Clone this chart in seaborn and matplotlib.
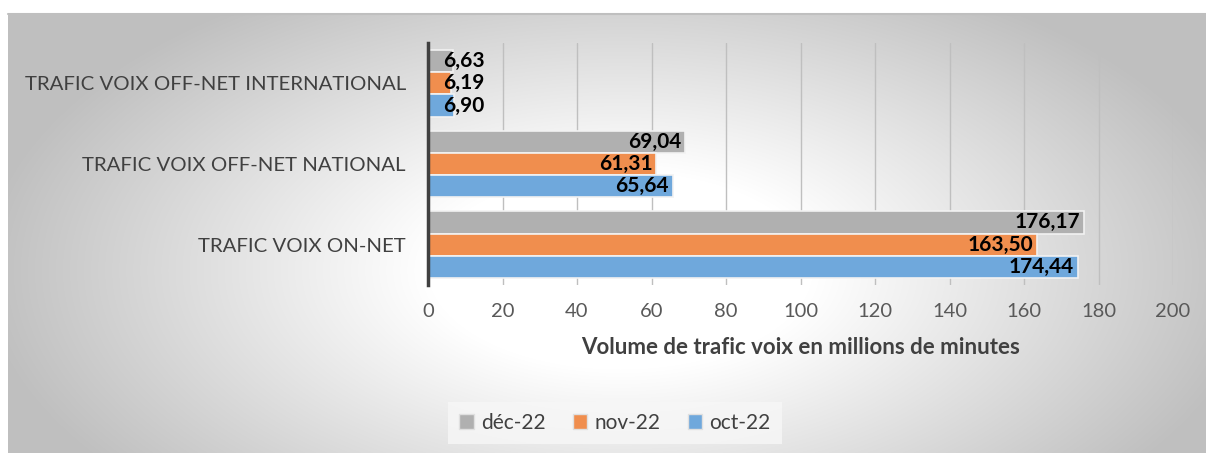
import numpy as np
import pandas as pd
import matplotlib
matplotlib.use("Agg")
import matplotlib.pyplot as plt
from matplotlib.patches import Patch
import seaborn as sns

categories = ["TRAFIC VOIX OFF-NET INTERNATIONAL", "TRAFIC VOIX OFF-NET NATIONAL", "TRAFIC VOIX ON-NET"]
series = ["déc-22", "nov-22", "oct-22"]
dec_22 = [6.63, 69.04, 176.17]
nov_22 = [6.19, 61.31, 163.50]
oct_22 = [6.90, 65.64, 174.44]
x_ticks = [0, 20, 40, 60, 80, 100, 120, 140, 160, 180, 200]
x_label = "Volume de trafic voix en millions de minutes"

colors = ["#B0B0B0", "#F08E4E", "#6FA8DC"]

rows = []
for s, vals in zip(series, [dec_22, nov_22, oct_22]):
    for c, v in zip(categories, vals):
        rows.append({"cat": c, "serie": s, "val": v})
df = pd.DataFrame(rows)

sns.set_theme(style="white")
plt.rcParams["font.family"] = ["Lato", "DejaVu Sans"]

W, H = 1206, 453
fig = plt.figure(figsize=(W / 100, H / 100), dpi=100)

# background radial gradient
bg = fig.add_axes([0, 0, 1, 1], zorder=-10)
yy, xx = np.mgrid[0:H, 0:W]
cx, cy, rx, ry = 620, 270, 640, 330
d = np.sqrt(((xx - cx) / rx) ** 2 + ((yy - cy) / ry) ** 2)
t = np.clip((d - 0.3) / 0.7, 0, 1)
val = 1.0 - 0.25 * t
img = np.dstack([val, val, val])
img[:13, :, :] = 1.0
img[:, :8, :] = 1.0
bg.imshow(img, extent=[0, W, H, 0], aspect="auto", interpolation="bilinear")
bg.plot([8, W], [13.5, 13.5], color="#BFBFBF", lw=1.5)
bg.set_xlim(0, W)
bg.set_ylim(H, 0)
bg.axis("off")

ax = fig.add_axes([428 / W, 1 - 285 / H, (1173 - 428) / W, (285 - 43) / H])
ax.set_facecolor("none")
sns.barplot(data=df, y="cat", x="val", hue="serie", hue_order=series, order=categories,
            palette=colors, saturation=1, orient="h", width=0.83, edgecolor="#F2F2F2",
            linewidth=1.2, ax=ax, legend=False, zorder=3)

ax.set_xlim(0, 200)
ax.set_ylim(2.5, -0.5)
ax.set_xticks(x_ticks)
ax.set_xticklabels([str(v) for v in x_ticks], fontsize=14.5, color="#595959")
ax.set_yticklabels(categories, fontsize=14.7, color="#404040")
ax.tick_params(axis="x", length=0, pad=13)
ax.tick_params(axis="y", length=0, pad=16)
ax.set_ylabel("")
ax.set_xlabel(x_label, fontsize=16, fontweight="bold", color="#404040", labelpad=12)
ax.grid(axis="x", color="#BFBFBF", lw=1, zorder=0)
ax.set_axisbelow(True)
for sp in ["top", "right", "bottom"]:
    ax.spines[sp].set_visible(False)
ax.spines["left"].set_color("#404040")
ax.spines["left"].set_linewidth(2.5)
ax.spines["left"].set_zorder(5)

for container, vals in zip(ax.containers, [dec_22, nov_22, oct_22]):
    for bar, v in zip(container, vals):
        yc = bar.get_y() + bar.get_height() / 2
        lab = f"{v:.2f}".replace(".", ",")
        if v < 20:
            ax.text(4.0, yc, lab, ha="left", va="center", fontsize=15, fontweight="bold",
                    color="black", zorder=6)
        else:
            ax.text(v - 1.0, yc, lab, ha="right", va="center", fontsize=15, fontweight="bold",
                    color="black", zorder=6)

handles = [Patch(facecolor=c, edgecolor="#E0E0E0") for c in colors]
leg = fig.legend(handles, series, loc="center", bbox_to_anchor=(615 / W, 1 - 423 / H),
                 ncol=3, frameon=True, fontsize=15, handlelength=0.7, handleheight=0.7,
                 handletextpad=0.35, columnspacing=1.3, borderpad=0.55)
leg.get_frame().set_facecolor("#F7F7F7")
leg.get_frame().set_edgecolor("none")
leg.get_frame().set_boxstyle("square", pad=0)
for t_ in leg.get_texts():
    t_.set_color("#404040")

fig.savefig("out.png", dpi=100)
